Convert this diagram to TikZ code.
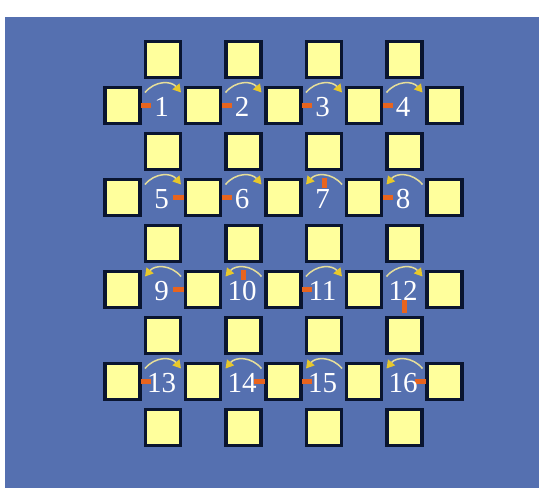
\documentclass[tikz,border=0pt]{standalone}
\usepackage{fontspec}
\setmainfont{Liberation Serif}
\usetikzlibrary{arrows.meta,calc}
\definecolor{bg}{HTML}{5570B0}
\definecolor{sqfill}{HTML}{FFFF9C}
\definecolor{sqline}{HTML}{0A1530}
\definecolor{barc}{HTML}{E8641E}
\definecolor{arcc}{HTML}{E6DE9A}
\definecolor{tipc}{HTML}{E8C82A}
\begin{document}
\begin{tikzpicture}[x=1pt,y=-1pt,
  cellsq/.style={draw=sqline, fill=sqfill, line width=3.2pt, minimum width=35pt, minimum height=35.5pt, inner sep=0pt},
  num/.style={text=white, font=\fontsize{29}{29}\selectfont, inner sep=0pt, anchor=base},
  stub/.style={draw=barc, line width=5pt},
  swing/.style={draw=arcc, line width=1.5pt, -{Triangle[length=8pt,width=9pt,color=tipc]}}]
\useasboundingbox (0,0) rectangle (542,488);
\fill[bg] (5,17) rectangle (539,488);
% column squares (above/below each cell)
\foreach \r in {0,...,4} \foreach \c in {0,...,3}
  \node[cellsq] (v\r\c) at ({163+80.5*\c},{59.5+92*\r}) {};
% row squares (left/right of each cell)
\foreach \r in {0,...,3} \foreach \c in {0,...,4}
  \node[cellsq] (h\r\c) at ({122.5+80.5*\c},{105.5+92*\r}) {};
% cells: number / arc direction / stub start / stub end
\foreach \n/\s/\ax/\ay/\bx/\by in {
  1/1/-22/0/-12/0, 2/1/-22/0/-12/0, 3/1/-22/0/-12/0, 4/1/-22/0/-12/0,
  5/1/10/0/21/0, 6/1/-22/0/-12/0, 7/-1/0/-20/0/-10, 8/-1/-22/0/-12/0,
  9/-1/10/0/21/0, 10/-1/0/-20/0/-10, 11/1/-22/0/-12/0, 12/1/0/10/0/23,
  13/1/-22/0/-12/0, 14/-1/10/0/21/0, 15/-1/-22/0/-12/0, 16/-1/10/0/21/0}{
  \pgfmathtruncatemacro{\row}{int((\n-1)/4)}
  \pgfmathtruncatemacro{\col}{mod(\n-1,4)}
  \coordinate (c\n) at ({163+80.5*\col},{105.5+92*\row});
  \draw[stub] ($(c\n)+(\ax,\ay)$) -- ($(c\n)+(\bx,\by)$);
  \draw[swing] ($(c\n)+({-18*\s},-13)$) .. controls ($(c\n)+({-8*\s},-25)$) and ($(c\n)+({8*\s},-25)$) .. ($(c\n)+({18*\s},-13)$);
  \node[num] (n\n) at ($(c\n)+(-1.5,10.5)$) {\n};
}
\end{tikzpicture}
\end{document}
